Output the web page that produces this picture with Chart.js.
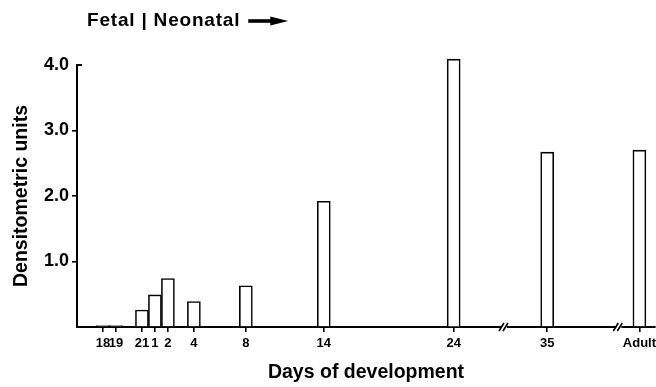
<!DOCTYPE html>
<html>
<head>
<meta charset="utf-8">
<script src="https://cdn.jsdelivr.net/npm/chart.js@4.4.1/dist/chart.umd.min.js"></script>
<style>
html, body { margin: 0; padding: 0; background: #fff; }
</style>
</head>
<body>
<canvas id="chart" width="656" height="387"></canvas>
<script>
// Jours de développement (fœtal 18-21, néonatal 1-35, adulte)
const dayLabels = ['18', '19', '21', '1', '2', '4', '8', '14', '24', '35', 'Adult'];
// Position sur l'axe : jour néonatal 1 = jour fœtal 22, axe comprimé après les coupures
const dayPositions = [-3, -2, 0, 1, 2, 4, 8, 14, 24, 31.2, 38.3];
// Unités densitométriques
const densityValues = [0.02, 0.02, 0.26, 0.49, 0.74, 0.39, 0.63, 1.92, 4.09, 2.67, 2.70];
const yTickValues = [0, 1, 2, 3, 4];
// Coupures de l'axe des x
const axisBreaks = [27.95, 36.75];

const FONT = '"Liberation Sans", Arial, Helvetica, sans-serif';

// Plugin : coupures de l'axe + légende "Fetal | Neonatal"
const decorPlugin = {
    id: 'decor',
    afterDraw(chart) {
        const ctx = chart.ctx;
        const xs = chart.scales.x;
        const ys = chart.scales.y;
        const yAxis = chart.chartArea.bottom;

        ctx.save();
        ctx.strokeStyle = '#000';
        ctx.lineWidth = 1.6;
        axisBreaks.forEach(b => {
            const px = xs.getPixelForValue(b);
            ctx.fillStyle = '#fff';
            ctx.fillRect(px - 3, yAxis - 2, 5, 4);
            ctx.beginPath();
            ctx.moveTo(px - 6, yAxis + 4);
            ctx.lineTo(px - 1, yAxis - 4);
            ctx.moveTo(px - 2, yAxis + 4);
            ctx.lineTo(px + 3, yAxis - 4);
            ctx.stroke();
        });

        // petit trait à droite pour 4.0
        const y4 = ys.getPixelForValue(4);
        ctx.lineWidth = 2;
        ctx.beginPath();
        ctx.moveTo(chart.chartArea.left - 1, y4);
        ctx.lineTo(chart.chartArea.left + 5, y4);
        ctx.stroke();

        // texte en haut
        ctx.fillStyle = '#000';
        ctx.font = 'bold 19px ' + FONT;
        ctx.letterSpacing = '0.8px';
        ctx.textBaseline = 'middle';
        ctx.textAlign = 'left';
        const text = 'Fetal | Neonatal';
        const tx = chart.chartArea.left + 10;
        const ty = 21;
        ctx.fillText(text, tx, ty);
        const ax = tx + ctx.measureText(text).width + 8;
        ctx.letterSpacing = '0px';
        ctx.fillRect(ax, ty - 1.8, 24, 3.6);
        ctx.beginPath();
        ctx.moveTo(ax + 22, ty - 4.5);
        ctx.lineTo(ax + 40, ty);
        ctx.lineTo(ax + 22, ty + 4.5);
        ctx.closePath();
        ctx.fill();
        ctx.restore();
    }
};

const ctx = document.getElementById('chart').getContext('2d');
new Chart(ctx, {
    type: 'bar',
    data: {
        datasets: [{
            data: dayPositions.map((p, i) => ({ x: p, y: densityValues[i] })),
            backgroundColor: '#fff',
            borderColor: '#000',
            borderWidth: 1.6,
            borderSkipped: 'bottom',
            barThickness: 13,
            clip: false
        }]
    },
    options: {
        responsive: false,
        animation: false,
        devicePixelRatio: 1,
        layout: { padding: { top: 65, right: 1, left: 0, bottom: 0 } },
        plugins: {
            legend: { display: false },
            tooltip: { enabled: false }
        },
        scales: {
            x: {
                type: 'linear',
                min: -5,
                max: 39.5,
                offset: false,
                afterBuildTicks: scale => {
                    scale.ticks = dayPositions.map(v => ({ value: v }));
                },
                afterFit: scale => {
                    scale.height = 60;
                    scale.paddingLeft = 0;
                    scale.paddingRight = 0;
                },
                border: { display: true, color: '#000', width: 2 },
                grid: { display: true, offset: false, drawOnChartArea: false, tickLength: 5, color: '#000', lineWidth: 1.6 },
                ticks: {
                    autoSkip: false,
                    maxRotation: 0,
                    padding: 4,
                    color: '#000',
                    font: { family: FONT, size: 13, weight: 'bold' },
                    callback: (value, index) => dayLabels[index]
                },
                title: {
                    display: true,
                    text: 'Days of development',
                    color: '#000',
                    font: { family: FONT, size: 19.5, weight: 'bold' },
                    padding: { top: 0, bottom: 3 }
                }
            },
            y: {
                min: 0,
                max: 4,
                afterBuildTicks: scale => {
                    scale.ticks = yTickValues.map(v => ({ value: v }));
                },
                afterFit: scale => {
                    scale.width = 77;
                },
                border: { display: true, color: '#000', width: 2 },
                grid: {
                    display: true,
                    drawOnChartArea: false,
                    tickLength: 5,
                    lineWidth: 1.6,
                    tickColor: c => (c.tick && (c.tick.value === 0 || c.tick.value === 4)) ? 'rgba(0,0,0,0)' : '#000'
                },
                ticks: {
                    padding: 3,
                    color: '#000',
                    font: { family: FONT, size: 18, weight: 'bold' },
                    callback: v => v === 0 ? '' : v.toFixed(1)
                },
                title: {
                    display: true,
                    text: 'Densitometric units',
                    color: '#000',
                    font: { family: FONT, size: 19.5, weight: 'bold' },
                    padding: { top: 10, bottom: 0 }
                }
            }
        }
    },
    plugins: [decorPlugin]
});
</script>
</body>
</html>
